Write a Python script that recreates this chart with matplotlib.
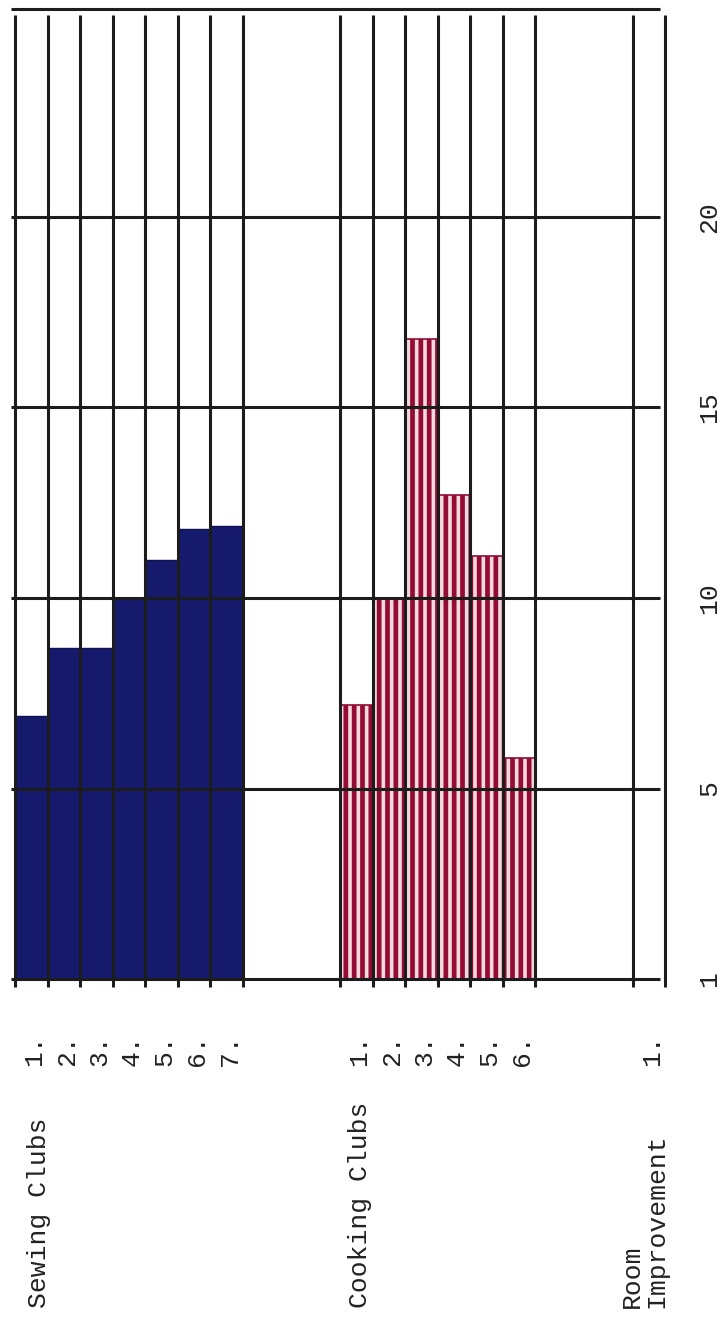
import numpy as np
import matplotlib.pyplot as plt

# club counts (bars start at the line labelled "1")
sewing_labels = ["1.", "2.", "3.", "4.", "5.", "6.", "7."]
sewing_values = [6.9, 8.7, 8.7, 10.0, 11.0, 11.8, 11.9]

cooking_labels = ["1.", "2.", "3.", "4.", "5.", "6."]
cooking_values = [7.2, 10.0, 16.8, 12.7, 11.1, 5.8]

room_labels = ["1."]
room_values = [0.0]

group_names = ["Sewing Clubs", "Cooking Clubs", "Room\nImprovement"]

value_ticks = [0, 5, 10, 15, 20]
value_tick_labels = ["1", "5", "10", "15", "20"]

plt.rcParams['font.family'] = ['Liberation Mono', 'DejaVu Sans Mono']
plt.rcParams['hatch.linewidth'] = 3.4

W, H = 728, 1321
SLOT = 32.5     # px per bar slot
X0 = 15         # px of first grid line
BASE = 979      # px (from top) of the baseline
UNIT = 38.1     # px per value unit


def px_top(y):
    return BASE - y * UNIT


fig = plt.figure(figsize=(W / 100, H / 100), dpi=100)
xlo, xhi = -0.2, 20.2
ylo, yhi = -0.3, 25.6
left = (X0 + xlo * SLOT) / W
right = (X0 + xhi * SLOT) / W
bottom = 1 - px_top(ylo) / H
top = 1 - px_top(yhi) / H
ax = fig.add_axes([left, bottom, right - left, top - bottom])
ax.set_xlim(xlo, xhi)
ax.set_ylim(ylo, yhi)
ax.axis('off')

groups = [(0, sewing_labels, sewing_values),
          (10, cooking_labels, cooking_values),
          (19, room_labels, room_values)]

# bars
sew_x = groups[0][0] + np.arange(len(sewing_values)) + 0.5
ax.bar(sew_x, sewing_values, width=1.0, color='#161a6c', edgecolor='#10124f',
       linewidth=1.0, zorder=2)
cook_x = groups[1][0] + np.arange(len(cooking_values)) + 0.5
ax.bar(cook_x, cooking_values, width=1.0, color='#f2d9df', edgecolor='#940b33',
       hatch='||', linewidth=1.2, zorder=2)
room_x = groups[2][0] + np.arange(len(room_values)) + 0.5
ax.bar(room_x, room_values, width=1.0, color='#161a6c', zorder=2)

# grid
line_kw = dict(color='#1c1c1c', lw=2.2, solid_capstyle='butt', zorder=3)
for v in value_ticks:
    ax.plot([-0.12, 19.85], [v, v], **line_kw)
ax.plot([-0.12, 19.85], [25.45, 25.45], **line_kw)
for start, labels, vals in groups:
    for k in range(len(vals) + 1):
        ax.plot([start + k, start + k], [-0.2, 25.3], **line_kw)

# value labels on the right
for v, lab in zip(value_ticks, value_tick_labels):
    ax.text(21.35, v, lab, rotation=90, ha='center', va='center',
            fontsize=19, color='#222222', clip_on=False)

# club numbers under each bar
label_y = (BASE - 1050) / UNIT
for start, labels, vals in groups:
    xs = start + np.arange(len(labels)) + 0.5
    for x, lab in zip(xs, labels):
        ax.text(x + 0.1, label_y, lab, rotation=90, ha='center', va='center',
                fontsize=19, color='#222222', clip_on=False)

# group names
name_y = (BASE - 1308) / UNIT
ax.text(0.75, name_y, group_names[0], rotation=90, ha='center',
        va='bottom', fontsize=19, color='#222222', clip_on=False)
ax.text(10.6, name_y, group_names[1], rotation=90, ha='center',
        va='bottom', fontsize=19, color='#222222', clip_on=False)
ax.text(19.35, name_y, group_names[2], rotation=90, ha='center',
        va='bottom', fontsize=19, color='#222222', multialignment='left',
        linespacing=1.0, clip_on=False)

fig.savefig('out.png', dpi=100)
